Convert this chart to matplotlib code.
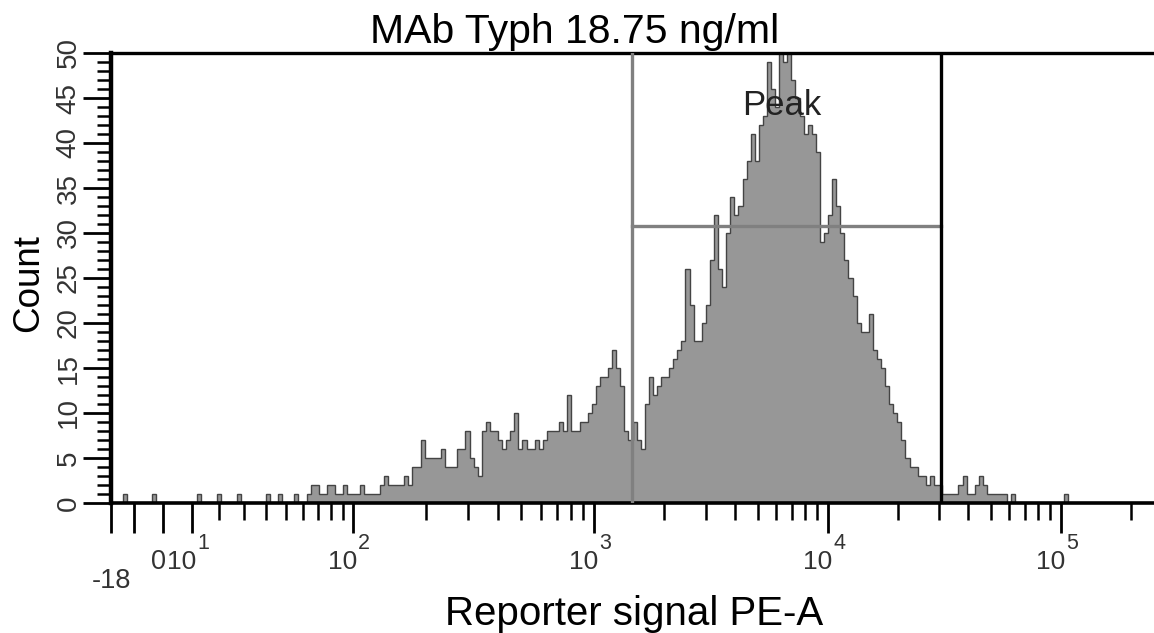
import numpy as np
import matplotlib
matplotlib.use("Agg")
import matplotlib.pyplot as plt
from matplotlib.scale import FuncScale
from matplotlib.transforms import offset_copy

plt.rcParams['font.family'] = ['Liberation Sans', 'DejaVu Sans']

# --- data ---
title = "MAb Typh 18.75 ng/ml"
xlabel = "Reporter signal PE-A"
ylabel = "Count"

# histogram counts, 256 channels uniform on the display axis
counts = [
    0, 0, 0, 1, 0, 0, 0, 0, 0, 0, 1, 0, 0, 0, 0, 0,
    0, 0, 0, 0, 0, 1, 0, 0, 0, 0, 1, 0, 0, 0, 0, 1,
    0, 0, 0, 0, 0, 0, 1, 0, 0, 1, 0, 0, 0, 1, 0, 0,
    1, 2, 2, 1, 1, 2, 2, 1, 1, 2, 1, 1, 1, 2, 1, 1,
    1, 1, 2, 3, 2, 2, 2, 2, 3, 2, 4, 4, 7, 5, 5, 5,
    5, 6, 4, 4, 4, 6, 6, 8, 5, 4, 3, 8, 9, 8, 8, 7,
    6, 7, 8, 10, 6, 7, 6, 6, 7, 6, 7, 8, 8, 8, 9, 8,
    12, 8, 8, 9, 9, 10, 11, 13, 14, 14, 15, 17, 15, 13, 8, 7,
    9, 7, 6, 11, 14, 12, 13, 14, 14, 15, 16, 17, 18, 26, 22, 18,
    18, 20, 22, 27, 32, 26, 24, 30, 34, 32, 33, 36, 38, 41, 38, 42,
    43, 49, 46, 44, 50, 49, 55, 47, 45, 43, 41, 42, 41, 39, 29, 30,
    32, 36, 33, 30, 27, 25, 23, 20, 19, 19, 21, 17, 16, 15, 13, 11,
    10, 9, 7, 5, 4, 4, 3, 3, 2, 3, 2, 2, 1, 1, 1, 1,
    2, 3, 1, 1, 2, 3, 2, 1, 1, 1, 1, 1, 0, 1, 0, 0,
    0, 0, 0, 0, 0, 0, 0, 0, 0, 0, 1, 0, 0, 0, 0, 0,
    0, 0, 0, 0, 0, 0, 0, 0, 0, 0, 0, 0, 0, 0, 0, 0,
]

# gate: left/right bounds on the signal axis, count level of the crossbar
gate_lo = 1450
gate_hi = 30500
gate_level = 30.8
peak_label = "Peak"
peak_pos = (6360, 44.2)

# biexponential display axis, calibrated from the tick marks
axis_vals = np.array([0, 10, 20, 30, 40, 50, 60, 70, 80, 90, 100, 1e3, 1e4, 1e5, 1e6])
axis_disp = np.array([0, 29, 56, 81, 103, 123, 140, 155, 168, 180, 190, 431, 665, 898, 1131])
x_range = (-52, 991)   # display units covered by the axes

major_x = [-18, -10, 0, 10, 100, 1e3, 1e4, 1e5]
minor_x = ([20, 30, 40, 50, 60, 70, 80, 90] + [k * 100 for k in range(2, 10)]
           + [k * 1000 for k in range(2, 10)] + [k * 10000 for k in range(2, 10)] + [2e5])
plain_labels = [(-18, "-18", -0.189, 0), (0, "0", -0.147, -4)]
decade_labels = [(10, "1"), (100, "2"), (1e3, "3"), (1e4, "4"), (1e5, "5")]

_g = np.arcsinh(axis_vals / 5.0)


def forward(v):
    v = np.asarray(v, dtype=float)
    return np.sign(v) * np.interp(np.arcsinh(np.abs(v) / 5.0), _g, axis_disp)


def inverse(p):
    p = np.asarray(p, dtype=float)
    return np.sign(p) * 5.0 * np.sinh(np.interp(np.abs(p), axis_disp, _g))


W, H = 1154, 633
fig = plt.figure(figsize=(W / 100, H / 100), dpi=100)
ax = fig.add_axes([111 / W, 1 - 503 / H, 1 - 111 / W, 450 / H])
ax.set_xscale(FuncScale(ax, (forward, inverse)))

edges = inverse(np.linspace(x_range[0], x_range[1], len(counts) + 1))
ax.stairs(counts, edges, fill=True, facecolor="#979797", edgecolor="none", zorder=1)
ax.stairs(counts, edges, color="#444444", lw=1.0, zorder=2)

# gate
ax.axvline(gate_lo, color="#808080", lw=2.4, zorder=3)
ax.plot([gate_lo, gate_hi], [gate_level, gate_level], color="#808080", lw=2.4, zorder=3)
ax.axvline(gate_hi, color="black", lw=2.4, zorder=4)
ax.text(peak_pos[0], peak_pos[1], peak_label, ha="center", va="center",
        fontsize=25, color="#222222", zorder=5)

ax.set_xlim(inverse(x_range[0]), inverse(x_range[1]))
ax.set_ylim(0, 50)

ax.spines["right"].set_visible(False)
ax.spines["top"].set_linewidth(2.4)
ax.spines["left"].set_linewidth(3.2)
ax.spines["bottom"].set_linewidth(2.6)

ax.set_xticks(major_x)
ax.set_xticks(minor_x, minor=True)
ax.set_xticklabels([])
ax.tick_params(axis="x", which="major", direction="out", length=21.5, width=2.0)
ax.tick_params(axis="x", which="minor", direction="out", length=12, width=1.8)

xt = ax.get_xaxis_transform()
for val, txt, ypos, dx in plain_labels:
    ax.text(val, ypos, txt, transform=offset_copy(xt, fig=fig, x=dx, y=0, units="dots"),
            ha="center", va="baseline", fontsize=19.5, color="#333333", clip_on=False)
base_tr = offset_copy(xt, fig=fig, x=4, y=0, units="dots")
sup_tr = offset_copy(xt, fig=fig, x=5, y=20, units="dots")
for val, exp in decade_labels:
    ax.text(val, -0.147, "10", transform=base_tr, ha="right", va="baseline",
            fontsize=19, color="#333333", clip_on=False)
    ax.text(val, -0.147, exp, transform=sup_tr, ha="left", va="baseline",
            fontsize=15.5, color="#333333", clip_on=False)

ax.set_yticks(np.arange(0, 51, 5))
ax.set_yticks(np.arange(0, 51, 1), minor=True)
ax.tick_params(axis="y", which="major", direction="out", length=20, width=2.0,
               labelsize=20, labelrotation=90, pad=1, labelcolor="#333333")
ax.tick_params(axis="y", which="minor", direction="out", length=10, width=1.8)
for lab in ax.get_yticklabels():
    lab.set_va("center")

fig.text(575 / W, 1 - 43 / H, title, ha="center", va="baseline", fontsize=29.5)
fig.text(29 / W, 1 - 283 / H, ylabel, ha="center", va="center", rotation=90, fontsize=26.5)
fig.text(634 / W, 1 - 625 / H, xlabel, ha="center", va="baseline", fontsize=29)

fig.savefig("out.png", dpi=100)
